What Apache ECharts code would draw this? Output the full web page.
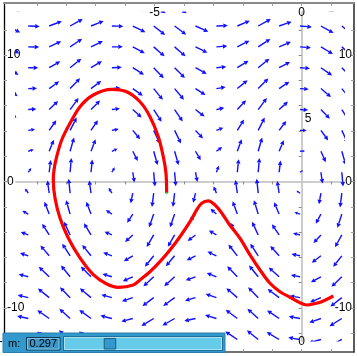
<!DOCTYPE html>
<html><head><meta charset="utf-8">
<script src="https://cdn.jsdelivr.net/npm/echarts@6/dist/echarts.min.js"></script>
<style>html,body{margin:0;padding:0;background:#fff}#c{width:357px;height:356px}</style>
</head><body><div id="c"></div>
<script>
// ---- data ----
const X_RANGE = [-10.115, 1.777];
const Y_RANGE = [-13.49, 14.12];
const FIELD_X_RANGE = [-9.71, 1.455];
const FIELD_Y_RANGE = [-12.66, 13.45];

const FRAME_X_TICKS = [-9,-8,-7,-6,-5,-4,-3,-2,-1,0,1];
const FRAME_Y_TICKS = [-12,-10,-8,-6,-4,-2,0,2,4,6,8,10,12];
const TOP_LABELS = [-5, 0];
const BOTTOM_LABELS = [-10, -5, 0];
const SIDE_LABELS = [-10, 0, 10];
const INNER_X_TICKS = [-9,-8,-7,-6,-5,-4,-3,-2,-1,1];
const INNER_Y_TICKS = [-12,-10,-8,-6,-4,-2,2,4,6,8,10,12];
const INNER_Y_LABEL = 5;

const GRID_X = [-10, -9.29, -8.58, -7.869, -7.159, -6.449, -5.739, -5.029, -4.318, -3.608, -2.898, -2.188, -1.478, -0.767, -0.057, 0.653, 1.363];
const GRID_Y = [13.96, 12.30, 10.65, 9.00, 7.35, 5.69, 4.04, 2.39, 0.73, -0.92, -2.58, -4.23, -5.88, -7.54, -9.19, -10.84, -12.50];

// arrow directions (degrees, per row of GRID_Y, per column of GRID_X)
const ANGLE = [
 [-25,-3,18,25,19,-2,-24,-35,-34,-22,1,20,25,16,-5,-26,-36],
 [-27,-2,21,29,22,-1,-26,-38,-37,-24,2,23,29,19,-5,-29,-39],
 [-29,-1,25,34,26,0,-28,-41,-41,-26,4,27,33,23,-5,-31,-42],
 [-33,0,30,39,31,2,-32,-46,-45,-29,6,32,39,28,-4,-35,-46],
 [-37,2,36,46,37,4,-36,-51,-50,-33,9,39,45,34,-4,-40,-51],
 [-43,4,44,54,45,7,-42,-57,-56,-38,13,47,53,42,-3,-46,-58],
 [-52,9,55,63,56,12,-50,-65,-64,-47,21,58,63,53,0,-54,-65],
 [-64,19,68,74,69,24,-63,-74,-74,-60,36,70,74,67,4,-66,-74],
 [-81,55,83,85,84,61,-81,-85,-85,-79,69,84,85,83,28,-82,-85],
 [-102,126,98,96,98,122,-102,-97,-97,-104,113,98,96,99,147,-100,-97],
 [-121,151,111,106,111,146,-123,-109,-109,-127,138,110,107,113,163,-118,-108],
 [-136,158,122,115,121,156,-138,-120,-120,-143,149,120,115,124,166,-133,-119],
 [-147,162,130,123,129,160,-149,-129,-130,-153,155,128,123,132,168,-143,-128],
 [-154,165,136,129,135,163,-156,-137,-138,-160,158,134,129,138,169,-151,-136],
 [-160,166,141,134,140,164,-161,-143,-144,-164,161,139,134,143,170,-157,-142],
 [-164,167,145,138,144,166,-165,-149,-150,-168,163,143,138,146,170,-161,-148],
 [-167,168,148,141,147,167,-168,-153,-154,-170,164,146,141,149,171,-164,-152]
];
// arrow strengths
const STRENGTH = [
 [20,14,17,21,18,14,20,27,26,19,14,18,21,17,14,21,27],
 [19,12,17,20,17,12,18,25,25,18,12,17,20,16,13,20,26],
 [17,11,16,20,16,11,17,24,24,16,11,17,20,15,11,18,25],
 [16,9,15,19,15,9,16,23,23,15,9,16,19,14,9,17,24],
 [15,7,14,19,15,7,14,22,22,13,8,16,19,14,7,16,23],
 [14,6,14,19,15,6,13,21,21,12,6,15,19,13,6,15,22],
 [13,4.3,14,19,14,4.5,12,20,20,11,5,15,19,13,4,14,21],
 [12,3.1,14,19,15,3.5,11,19,19,10,4.7,15,19,13,2.4,13,20],
 [11,2.5,14,19,15,3.1,10,19,18,9,4.6,16,19,13,1.2,12,19],
 [10,3.0,15,20,15,3.6,10,18,18,9,5,16,20,14,1.7,12,19],
 [10,4.3,16,21,16,4.8,10,18,18,8,6,17,20,15,3.2,11,19],
 [10,6,16,21,17,6,10,18,17,9,7,18,21,15,4.9,11,18],
 [11,7,17,22,18,8,10,18,17,9,9,19,22,16,7,12,18],
 [11,9,19,23,19,9,11,18,18,10,10,20,23,18,8,12,19],
 [12,11,20,24,20,11,12,18,18,11,12,21,24,19,10,13,19],
 [13,12,21,25,21,13,13,19,18,12,13,22,25,20,12,14,19],
 [14,14,22,26,23,14,14,19,19,14,15,23,26,21,13,15,20]
];

const TRAJ_X = [1.074,0.680,0.394,0.170,-0.058,-0.398,-0.737,-1.077,-1.417,-1.757,-2.097,-2.470,-2.742,-2.946,-3.173,-3.398,-3.568,-3.796,-4.136,-4.476,-4.816,-5.155,-5.495,-5.723,-6.231,-6.626,-7.081,-7.533,-7.931,-8.213,-8.382,-8.440,-8.416,-8.325,-8.155,-7.874,-7.533,-7.081,-6.456,-5.946,-5.494,-5.154,-4.872,-4.702,-4.611,-4.588];
const TRAJ_Y = [-9.06,-9.51,-9.69,-9.77,-9.59,-9.16,-8.72,-8.05,-7.00,-5.81,-4.49,-3.36,-2.41,-1.86,-1.54,-1.72,-2.25,-3.18,-4.37,-5.42,-6.34,-7.14,-7.79,-8.19,-8.37,-8.11,-7.37,-6.05,-4.47,-2.89,-1.31,0.12,0.91,1.96,3.28,4.60,5.92,6.84,7.29,7.10,6.31,5.13,3.54,1.96,0.65,-0.91];

const PARAM_NAME = 'm:';
const PARAM_VALUE = '0.297';
const PARAM_FRACTION = 0.256;

// ---- layout ----
const G = {left: 4, top: 3, width: 350, height: 349};
function pxX(v){ return G.left + (v - X_RANGE[0]) / (X_RANGE[1]-X_RANGE[0]) * G.width; }
function pxY(v){ return G.top + (Y_RANGE[1] - v) / (Y_RANGE[1]-Y_RANGE[0]) * G.height; }
const G2 = {
  left: pxX(FIELD_X_RANGE[0]), top: pxY(FIELD_Y_RANGE[1]),
  width: pxX(FIELD_X_RANGE[1]) - pxX(FIELD_X_RANGE[0]),
  height: pxY(FIELD_Y_RANGE[0]) - pxY(FIELD_Y_RANGE[1])
};

const FONT = 'Liberation Sans, Arial, sans-serif';
const ARROW = '#1010ff';

const fieldData = [];
for (let j = 0; j < GRID_Y.length; j++)
  for (let i = 0; i < GRID_X.length; i++)
    fieldData.push([GRID_X[i], GRID_Y[j], ANGLE[j][i], STRENGTH[j][i]]);

const trajData = TRAJ_X.map((x, k) => [x, TRAJ_Y[k]]);

function renderArrow(params, api) {
  const p = api.coord([api.value(0), api.value(1)]);
  const a = api.value(2) * Math.PI / 180;
  const L = Math.min(3.3 * Math.sqrt(api.value(3)), 14.5);
  const c = Math.cos(a), s = -Math.sin(a);
  const tip = [p[0] + L*c, p[1] + L*s];
  const h = Math.min(4.5, L*0.55), w = h*0.5;
  const hb = [tip[0] - h*c, tip[1] - h*s];
  const nx = -s, ny = c;
  return {type: 'group', children: [
    {type: 'line', shape: {x1: p[0], y1: p[1], x2: hb[0], y2: hb[1]}, style: {stroke: ARROW, lineWidth: 1.4}},
    {type: 'polygon', shape: {points: [tip, [hb[0]+w*nx, hb[1]+w*ny], [hb[0]-w*nx, hb[1]-w*ny]]}, style: {fill: ARROW}}
  ]};
}

function frameAxis(extra) {
  return Object.assign({
    type: 'value', gridIndex: 0, splitLine: {show: false},
    axisTick: {inside: true, length: 3, lineStyle: {color: '#9a9a9a'}},
    axisLabel: {inside: true, color: '#000', fontFamily: FONT, fontSize: 12, margin: 3}
  }, extra);
}

const chart = echarts.init(document.getElementById('c'), null, {renderer: 'canvas'});
const slX = 63.5, slW = 159;
chart.setOption({
  animation: false,
  backgroundColor: '#fff',
  grid: [
    Object.assign({outerBoundsMode: 'none', containLabel: false}, G),
    Object.assign({outerBoundsMode: 'none', containLabel: false}, G2)
  ],
  xAxis: [
    frameAxis({position: 'top', min: X_RANGE[0], max: X_RANGE[1],
      axisLine: {onZero: false, lineStyle: {color: '#8a8a8a', width: 2}},
      axisTick: {inside: true, length: 3, lineStyle: {color: '#9a9a9a'}, customValues: FRAME_X_TICKS},
      axisLabel: {inside: true, color: '#000', fontFamily: FONT, fontSize: 12, margin: 4, customValues: TOP_LABELS}}),
    frameAxis({position: 'bottom', min: X_RANGE[0], max: X_RANGE[1],
      axisLine: {onZero: false, lineStyle: {color: '#444', width: 1.5}},
      axisTick: {inside: true, length: 3, lineStyle: {color: '#9a9a9a'}, customValues: FRAME_X_TICKS},
      axisLabel: {inside: true, color: '#000', fontFamily: FONT, fontSize: 12, margin: 4, customValues: BOTTOM_LABELS}}),
    {type: 'value', gridIndex: 1, min: FIELD_X_RANGE[0], max: FIELD_X_RANGE[1], splitLine: {show: false},
      axisLine: {onZero: true, lineStyle: {color: '#bdbdbd', width: 1.5}},
      axisTick: {length: 3, lineStyle: {color: '#8a8a8a'}, customValues: INNER_X_TICKS},
      axisLabel: {show: false}}
  ],
  yAxis: [
    frameAxis({position: 'left', min: Y_RANGE[0], max: Y_RANGE[1],
      axisLine: {onZero: false, lineStyle: {color: '#000', width: 1.3}},
      axisTick: {inside: true, length: 3, lineStyle: {color: '#9a9a9a'}, customValues: FRAME_Y_TICKS},
      axisLabel: {inside: true, color: '#000', fontFamily: FONT, fontSize: 12, margin: 3, customValues: SIDE_LABELS}}),
    frameAxis({position: 'right', min: Y_RANGE[0], max: Y_RANGE[1],
      axisLine: {onZero: false, lineStyle: {color: '#333', width: 1.6}},
      axisTick: {inside: true, length: 3, lineStyle: {color: '#9a9a9a'}, customValues: FRAME_Y_TICKS},
      axisLabel: {inside: true, color: '#000', fontFamily: FONT, fontSize: 12, margin: 2, customValues: SIDE_LABELS}}),
    {type: 'value', gridIndex: 1, min: FIELD_Y_RANGE[0], max: FIELD_Y_RANGE[1], splitLine: {show: false},
      axisLine: {onZero: true, lineStyle: {color: '#bdbdbd', width: 1.5}},
      axisTick: {length: 3, lineStyle: {color: '#8a8a8a'}, customValues: INNER_Y_TICKS},
      axisLabel: {show: false}}
  ],
  series: [
    {type: 'custom', xAxisIndex: 2, yAxisIndex: 2, clip: true, renderItem: renderArrow,
      encode: {x: 0, y: 1}, data: fieldData, z: 3, silent: true},
    {type: 'line', xAxisIndex: 0, yAxisIndex: 0, data: trajData, smooth: 0.3,
      showSymbol: false, lineStyle: {color: '#ff0000', width: 3.2}, z: 5, silent: true},
    {type: 'scatter', xAxisIndex: 0, yAxisIndex: 0, data: [trajData[trajData.length-1]],
      symbolSize: 2.5, itemStyle: {color: '#33cc33'}, z: 6, silent: true}
  ],
  graphic: [
    {type: 'text', z: 50, x: pxX(0) + 3, y: pxY(INNER_Y_LABEL), style: {text: String(INNER_Y_LABEL), fill: '#000', font: '12px ' + FONT, verticalAlign: 'middle'}},
    {type: 'rect', z: 100, shape: {x: 3, y: 333, width: 222, height: 19.5}, style: {fill: '#3399cc', stroke: '#2a80ad', lineWidth: 1}},
    {type: 'text', z: 101, x: 8, y: 343.5, style: {text: PARAM_NAME, fill: '#000', font: '11px ' + FONT, verticalAlign: 'middle'}},
    {type: 'rect', z: 101, shape: {x: 26.5, y: 337.5, width: 33.5, height: 12.5}, style: {fill: '#3a95c8', stroke: '#0e3a52', lineWidth: 1}},
    {type: 'rect', z: 101, shape: {x: 27.5, y: 338.5, width: 31.5, height: 10.5}, style: {fill: 'none', stroke: '#7cc3e6', lineWidth: 1}},
    {type: 'text', z: 102, x: 29.5, y: 344, style: {text: PARAM_VALUE, fill: '#000', font: '11px ' + FONT, verticalAlign: 'middle'}},
    {type: 'rect', z: 101, shape: {x: slX, y: 336.5, width: slW, height: 14}, style: {fill: '#66cbe8', stroke: '#1d6f99', lineWidth: 1}},
    {type: 'rect', z: 101, shape: {x: slX + 1, y: 337.5, width: slW - 2, height: 12}, style: {fill: 'none', stroke: '#a8e2f3', lineWidth: 1}},
    {type: 'rect', z: 102, shape: {x: slX + PARAM_FRACTION * slW, y: 338.5, width: 11.5, height: 10.5}, style: {fill: '#3399cc', stroke: '#1b5e80', lineWidth: 1}}
  ]
});
</script>
</body></html>
